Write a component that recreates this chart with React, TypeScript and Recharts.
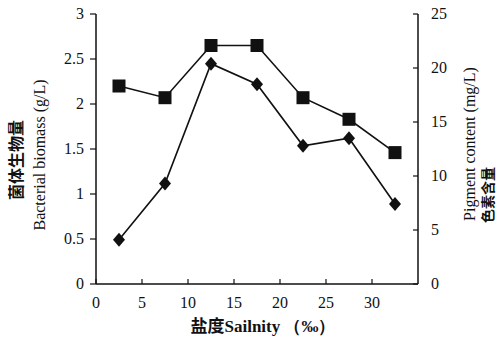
import { ComposedChart, Line, XAxis, YAxis } from "recharts";

// salinity levels (‰) and the two measured series
const salinity = [2.5, 7.5, 12.5, 17.5, 22.5, 27.5, 32.5];
const biomass = [2.2, 2.07, 2.65, 2.65, 2.07, 1.83, 1.46]; // squares, left axis (g/L)
const pigment = [4.1, 9.3, 20.4, 18.5, 12.8, 13.5, 7.4]; // diamonds, right axis (mg/L)

const xTicks = [0, 5, 10, 15, 20, 25, 30];
const leftTicks = [0, 0.5, 1, 1.5, 2, 2.5, 3];
const rightTicks = [0, 5, 10, 15, 20, 25];

const data = salinity.map((s, i) => ({ s, biomass: biomass[i], pigment: pigment[i] }));

const serif = "Liberation Serif, Tinos, Times New Roman, DejaVu Serif, serif";
const cjk = "Noto Sans CJK SC, sans-serif";
const ink = "#111";

const serifText = { fontFamily: serif, fontSize: 16 };

const SquareDot = (p: any) => (
  <rect key={`sq-${p.index}`} x={p.cx - 6.5} y={p.cy - 6.5} width={13} height={13} fill={ink} />
);

const DiamondDot = (p: any) => (
  <polygon
    key={`dm-${p.index}`}
    points={`${p.cx},${p.cy - 7} ${p.cx + 6},${p.cy} ${p.cx},${p.cy + 7} ${p.cx - 6},${p.cy}`}
    fill={ink}
  />
);

// x ticks point up into the plot, labels sit below the axis
const XTick = ({ x, y, payload }: any) => (
  <g>
    <line x1={x} y1={y} x2={x} y2={y - 5} stroke={ink} strokeWidth={1.2} />
    <text x={x} y={y + 24} textAnchor="middle" style={serifText} fill={ink}>
      {payload.value}
    </text>
  </g>
);

// left ticks sit outside the axis
const LeftTick = ({ x, y, payload }: any) => (
  <g>
    <line x1={x + 6} y1={y} x2={x + 12} y2={y} stroke={ink} strokeWidth={1.2} />
    <text x={x} y={y + 5} textAnchor="end" style={serifText} fill={ink}>
      {payload.value}
    </text>
  </g>
);

// right axis ticks point left into the plot
const RightTick = ({ x, y, payload }: any) => (
  <g>
    <line x1={x} y1={y} x2={x - 5} y2={y} stroke={ink} strokeWidth={1.2} />
    <text x={x + 13} y={y + 5} textAnchor="start" style={serifText} fill={ink}>
      {payload.value}
    </text>
  </g>
);

export default function App() {
  return (
    <div style={{ position: "absolute", left: 0, top: 0, width: 498, height: 339, background: "#fff" }}>
      <ComposedChart width={498} height={339} data={data} margin={{ top: 14, right: 0, left: 0, bottom: 0 }}>
        <XAxis
          dataKey="s"
          type="number"
          domain={[0, 35]}
          ticks={xTicks}
          height={55}
          tickSize={0}
          tickMargin={0}
          tick={<XTick />}
          axisLine={{ stroke: ink, strokeWidth: 1.5 }}
        />
        <YAxis
          yAxisId="left"
          domain={[0, 3]}
          ticks={leftTicks}
          width={96}
          tickSize={0}
          tickMargin={12}
          tick={<LeftTick />}
          axisLine={{ stroke: ink, strokeWidth: 1.5 }}
        />
        <YAxis
          yAxisId="right"
          orientation="right"
          domain={[0, 25]}
          ticks={rightTicks}
          width={80}
          tickSize={0}
          tickMargin={0}
          tick={<RightTick />}
          axisLine={{ stroke: ink, strokeWidth: 1.5 }}
        />
        <Line
          yAxisId="left"
          dataKey="biomass"
          stroke={ink}
          strokeWidth={1.6}
          dot={SquareDot}
          isAnimationActive={false}
        />
        <Line
          yAxisId="right"
          dataKey="pigment"
          stroke={ink}
          strokeWidth={1.6}
          dot={DiamondDot}
          isAnimationActive={false}
        />
      </ComposedChart>
      <svg width={498} height={339} style={{ position: "absolute", left: 0, top: 0, pointerEvents: "none" }}>
        <text
          transform="translate(22,160) rotate(-90)"
          textAnchor="middle"
          style={{ fontFamily: cjk, fontWeight: 700, fontSize: 16 }}
          fill={ink}
        >
          菌体生物量
        </text>
        <text transform="translate(45,155) rotate(-90)" textAnchor="middle" style={serifText} fill={ink}>
          Bacterial biomass (g/L)
        </text>
        <text transform="translate(475,144) rotate(-90)" textAnchor="middle" style={serifText} fill={ink}>
          Pigment content (mg/L)
        </text>
        <text
          transform="translate(493,195) rotate(-90)"
          textAnchor="middle"
          style={{ fontFamily: cjk, fontWeight: 700, fontSize: 14 }}
          fill={ink}
        >
          色素含量
        </text>
        <text x={263} y={332} textAnchor="middle" fill={ink} style={{ fontWeight: 700, fontSize: 17 }}>
          <tspan style={{ fontFamily: cjk }}>盐度</tspan>
          <tspan style={{ fontFamily: serif }}>Sailnity （‰）</tspan>
        </text>
      </svg>
    </div>
  );
}
